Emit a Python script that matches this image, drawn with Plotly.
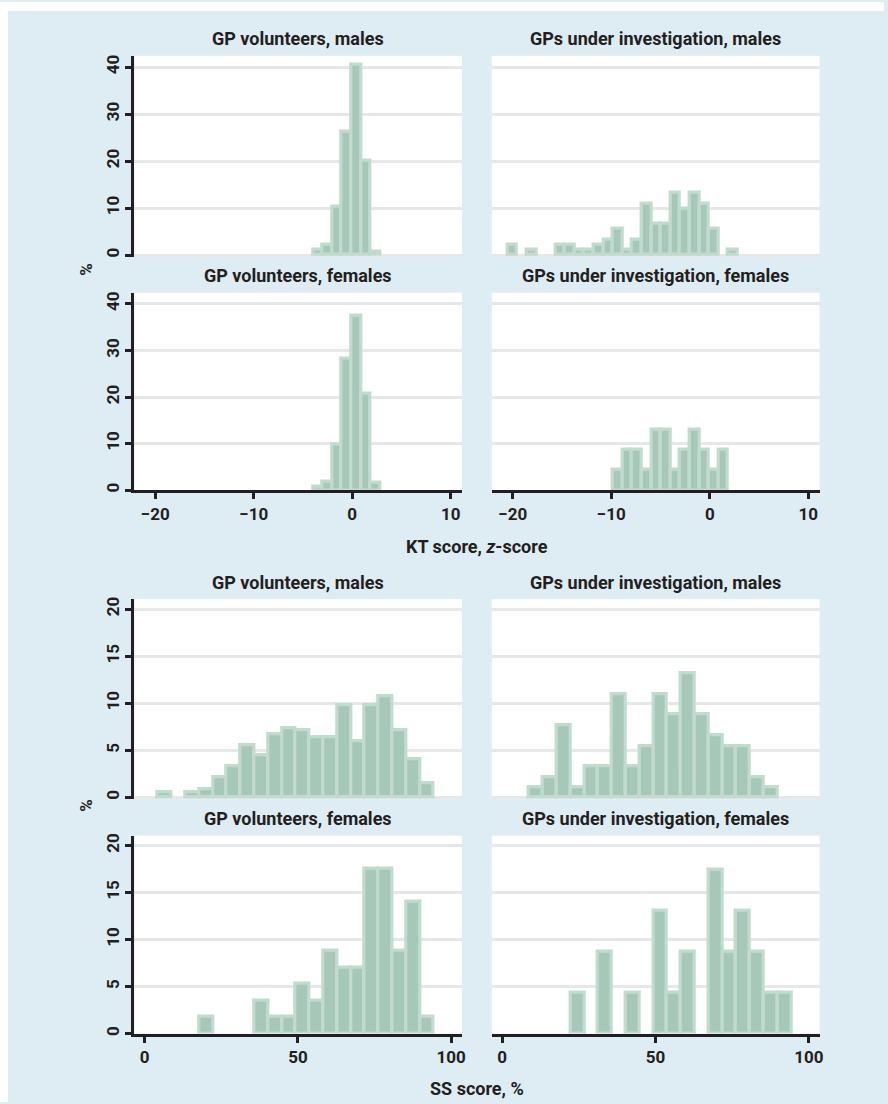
import numpy as np
import plotly.graph_objects as go

W, H = 888, 1104

# ---- KT score (z-score): percent of each group per bin, shared bins ----
kt_bin_start = -20.52
kt_bin_width = 0.973
kt_vol_males = [0, 0, 0, 0, 0, 0, 0, 0, 0, 0, 0, 0, 0, 0, 0, 0, 0,
                1.1, 2.1, 10.3, 26.3, 40.4, 20.0, 0.8]
kt_inv_males = [2.2, 0, 1.1, 0, 0, 2.2, 2.2, 1.1, 1.1, 2.2, 3.3, 5.5,
                1.1, 3.3, 11.0, 6.6, 6.6, 13.2, 9.9, 13.2, 11.0, 5.5, 0, 1.1]
kt_vol_females = [0, 0, 0, 0, 0, 0, 0, 0, 0, 0, 0, 0, 0, 0, 0, 0, 0,
                  0.8, 1.9, 9.8, 28.3, 37.4, 20.8, 1.6]
kt_inv_females = [0, 0, 0, 0, 0, 0, 0, 0, 0, 0, 0,
                  4.35, 8.7, 8.7, 4.35, 13.04, 13.04, 4.35, 8.7, 13.04, 8.7, 4.35, 8.7, 0]

# ---- SS score (%): percent of each group per bin, shared bins ----
ss_bin_start = 4.3
ss_bin_width = 4.5
ss_vol_males = [0.55, 0, 0.55, 0.85, 2.2, 3.35, 5.6, 4.5, 6.7, 7.4,
                7.1, 6.4, 6.4, 9.8, 6.0, 9.8, 10.8, 7.1, 4.1, 1.5]
ss_inv_males = [0, 1.1, 2.2, 7.7, 1.1, 3.3, 3.3, 11.0, 3.3, 5.5,
                11.0, 8.8, 13.2, 8.8, 6.6, 5.5, 5.5, 2.2, 1.1, 0]
ss_vol_females = [0, 0, 0, 1.75, 0, 0, 0, 3.51, 1.75, 1.75,
                  5.26, 3.51, 8.77, 7.02, 7.02, 17.54, 17.54, 8.77, 14.04, 1.75]
ss_inv_females = [0, 0, 0, 0, 4.35, 0, 8.7, 0, 4.35, 0,
                  13.04, 4.35, 8.7, 0, 17.39, 8.7, 13.04, 8.7, 4.35, 4.35]

kt_ticks = [-20, -10, 0, 10]
ss_ticks = [0, 50, 100]
kt_pct_ticks = [0, 10, 20, 30, 40]
ss_pct_ticks = [0, 5, 10, 15, 20]

panel_titles = [
    "GP volunteers, males", "GPs under investigation, males",
    "GP volunteers, females", "GPs under investigation, females",
    "GP volunteers, males", "GPs under investigation, males",
    "GP volunteers, females", "GPs under investigation, females",
]
kt_axis_title = "KT score, <i>z</i>-score"
ss_axis_title = "SS score, %"
pct_title = "%"

INK = "#231f20"
BG_BLUE = "#deecf3"
GRID = "#e6e7e8"
BAR_FILL = "rgb(165,200,185)"
BAR_EDGE = "rgb(193,220,207)"
FONT = "Roboto"
TITLE_SIZE = 18
TICK_SIZE = 17


def fx(px):
    return px / W


def fy(py):
    return 1 - py / H


# pixel boxes for the two columns and four rows of panels
cols = [(135, 464), (494, 823.3)]
rows = [(54, 255.6), (291.7, 490), (599.3, 800), (836.7, 1035.3)]

panels = [
    (kt_vol_males, kt_bin_start, kt_bin_width, 0, 0),
    (kt_inv_males, kt_bin_start, kt_bin_width, 0, 1),
    (kt_vol_females, kt_bin_start, kt_bin_width, 1, 0),
    (kt_inv_females, kt_bin_start, kt_bin_width, 1, 1),
    (ss_vol_males, ss_bin_start, ss_bin_width, 2, 0),
    (ss_inv_males, ss_bin_start, ss_bin_width, 2, 1),
    (ss_vol_females, ss_bin_start, ss_bin_width, 3, 0),
    (ss_inv_females, ss_bin_start, ss_bin_width, 3, 1),
]

fig = go.Figure()
layout = {}
annotations = []

for i, (vals, start, width, r, c) in enumerate(panels, start=1):
    vals = np.asarray(vals, dtype=float)
    centres = start + width * (np.arange(len(vals)) + 0.5)
    keep = vals > 0
    sfx = "" if i == 1 else str(i)
    fig.add_trace(go.Bar(
        x=centres[keep], y=vals[keep], width=width,
        marker=dict(color=BAR_FILL, line=dict(color=BAR_EDGE, width=3.2)),
        xaxis="x" + sfx, yaxis="y" + sfx, showlegend=False,
        hoverinfo="x+y",
    ))

    is_kt = r < 2
    is_bottom = r in (1, 3)
    is_left = c == 0
    x0, x1 = cols[c]
    y0, y1 = rows[r]

    if is_kt:
        xr = [-22.12, 11.14]
        xt = kt_ticks
        yr = [0, 42.4] if is_bottom else [-0.34, 42.4]
        yt = kt_pct_ticks
    else:
        xr = [-3.35, 103.5]
        xt = ss_ticks
        yr = [0, 21.06] if is_bottom else [-0.18, 21.06]
        yt = ss_pct_ticks

    layout["xaxis" + sfx] = dict(
        domain=[fx(x0), fx(x1)], range=xr, anchor="y" + sfx,
        showgrid=False, zeroline=False, fixedrange=True,
        tickmode="array", tickvals=xt,
        showline=is_bottom, linecolor=INK, linewidth=3,
        ticks="outside" if is_bottom else "", ticklen=6, tickwidth=3,
        tickcolor=INK, showticklabels=is_bottom,
        tickfont=dict(family=FONT, size=TICK_SIZE, color=INK, weight="bold"),
    )
    layout["yaxis" + sfx] = dict(
        domain=[fy(y1), fy(y0)], range=yr, anchor="x" + sfx,
        showgrid=True, gridcolor=GRID, gridwidth=2.5, zeroline=False,
        fixedrange=True, tickmode="array", tickvals=yt,
        showline=is_left, linecolor=INK, linewidth=3,
        ticks="outside" if is_left else "", ticklen=6, tickwidth=3,
        tickcolor=INK, showticklabels=is_left, tickangle=-90,
        tickfont=dict(family=FONT, size=TICK_SIZE, color=INK, weight="bold"),
    )

    annotations.append(dict(
        text=panel_titles[i - 1], xref="paper", yref="paper",
        x=fx((x0 + x1) / 2), y=fy(y0 - 17), xanchor="center", yanchor="middle",
        showarrow=False,
        font=dict(family=FONT, size=TITLE_SIZE, color=INK, weight="bold"),
    ))

# shared axis titles
annotations += [
    dict(text=kt_axis_title, xref="paper", yref="paper", x=fx(479), y=fy(546),
         xanchor="center", yanchor="middle", showarrow=False,
         font=dict(family=FONT, size=TITLE_SIZE, color=INK, weight="bold")),
    dict(text=ss_axis_title, xref="paper", yref="paper", x=fx(479), y=fy(1090),
         xanchor="center", yanchor="middle", showarrow=False,
         font=dict(family=FONT, size=TITLE_SIZE, color=INK, weight="bold")),
    dict(text=pct_title, xref="paper", yref="paper", x=fx(86), y=fy(268),
         xanchor="center", yanchor="middle", showarrow=False, textangle=-90,
         font=dict(family=FONT, size=TICK_SIZE, color=INK, weight="bold")),
    dict(text=pct_title, xref="paper", yref="paper", x=fx(86), y=fy(806),
         xanchor="center", yanchor="middle", showarrow=False, textangle=-90,
         font=dict(family=FONT, size=TICK_SIZE, color=INK, weight="bold")),
]

# white border strips outside the tinted figure area
shapes = [
    dict(type="rect", xref="paper", yref="paper", x0=0, x1=1, y0=fy(9), y1=1,
         fillcolor="white", line=dict(width=0), layer="below"),
    dict(type="rect", xref="paper", yref="paper", x0=0, x1=fx(8), y0=0, y1=1,
         fillcolor="white", line=dict(width=0), layer="below"),
]

fig.update_layout(
    width=W, height=H, autosize=False,
    margin=dict(l=0, r=0, t=0, b=0),
    paper_bgcolor=BG_BLUE, plot_bgcolor="white",
    bargap=0, barmode="overlay",
    font=dict(family=FONT, size=TICK_SIZE, color=INK),
    annotations=annotations, shapes=shapes,
    **layout,
)

fig.write_html("out.html", config={"displayModeBar": False})
